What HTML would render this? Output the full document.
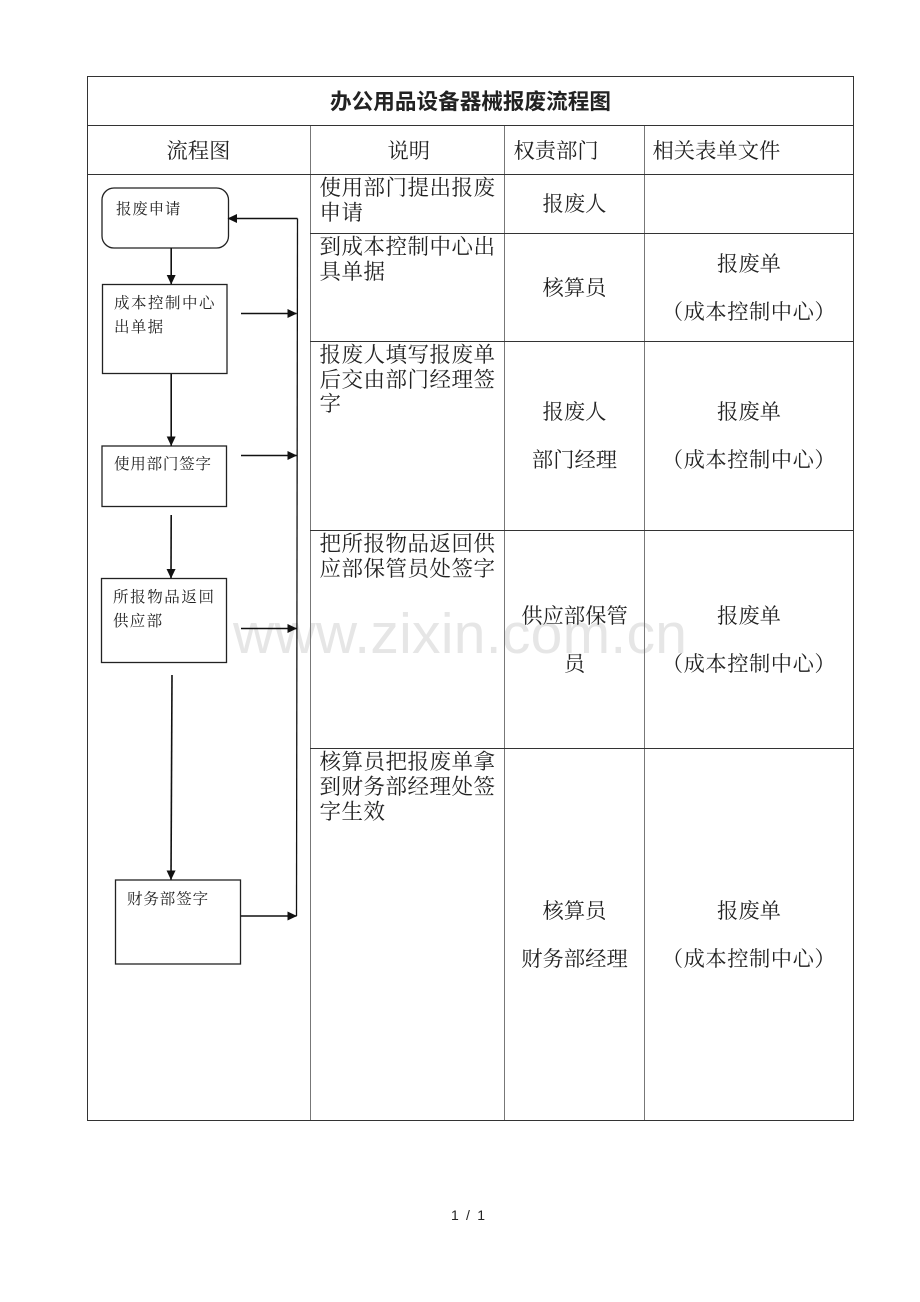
<!DOCTYPE html>
<html><head><meta charset="utf-8"><style>
html,body{margin:0;padding:0;background:#fff;width:920px;height:1302px;overflow:hidden}
svg{display:block}
text{font-family:"Liberation Serif","Noto Serif CJK SC",serif;fill:#222}
.d{font-size:21.5px;letter-spacing:.5px}
.h{font-size:21.3px}
.c{font-size:21.3px;text-anchor:middle}
.p{font-size:21.3px;text-anchor:middle;letter-spacing:.5px}
.f{font-size:15.5px;letter-spacing:1.3px}
</style></head><body>
<svg width="920" height="1302" viewBox="0 0 920 1302" xmlns="http://www.w3.org/2000/svg">
<defs><marker id="a" markerUnits="userSpaceOnUse" markerWidth="10" markerHeight="10" refX="9" refY="4.5" orient="auto"><path d="M0 0L9.5 4.5L0 9z" fill="#111"/></marker></defs>
<text x="233" y="653" font-size="57" textLength="454" style='font-family:"Liberation Sans",sans-serif;fill:#e6e6e6'>www.zixin.com.cn</text>
<g stroke="#777" stroke-width="1" fill="none" shape-rendering="crispEdges">
<path d="M310.500 126V1120M504.500 126V1120M644.500 126V1120"/>
</g>
<g stroke="#333" stroke-width="1" fill="none" shape-rendering="crispEdges">
<rect x="87.500" y="76.500" width="766" height="1044"/>
<path d="M88 125.500H853M88 174.500H853M310 233.500H853M310 341.500H853M310 530.500H853M310 748.500H853"/>
</g>
<text x="330" y="109" font-size="21.600" font-weight="700" textLength="281" style='font-family:"Liberation Sans","Noto Sans CJK SC",sans-serif'>办公用品设备器械报废流程图</text>
<text class="h" x="166.500" y="158">流程图</text>
<text class="h" x="387.500" y="158">说明</text>
<text class="h" x="513.500" y="158">权责部门</text>
<text class="h" x="652.500" y="158">相关表单文件</text>
<text class="d" x="319.500" y="195">使用部门提出报废</text>
<text class="d" x="319.500" y="220">申请</text>
<text class="d" x="319.500" y="254">到成本控制中心出</text>
<text class="d" x="319.500" y="279">具单据</text>
<text class="d" x="319.500" y="362">报废人填写报废单</text>
<text class="d" x="319.500" y="387">后交由部门经理签</text>
<text class="d" x="319.500" y="411">字</text>
<text class="d" x="319.500" y="551">把所报物品返回供</text>
<text class="d" x="319.500" y="576">应部保管员处签字</text>
<text class="d" x="319.500" y="769">核算员把报废单拿</text>
<text class="d" x="319.500" y="794">到财务部经理处签</text>
<text class="d" x="319.500" y="819">字生效</text>
<text class="c" x="574.500" y="211">报废人</text>
<text class="c" x="574.500" y="295">核算员</text>
<text class="c" x="574.500" y="419">报废人</text>
<text class="c" x="574.500" y="467">部门经理</text>
<text class="c" x="574.500" y="623">供应部保管</text>
<text class="c" x="574.500" y="671">员</text>
<text class="c" x="574.500" y="918">核算员</text>
<text class="c" x="574.500" y="966">财务部经理</text>
<text class="c" x="749" y="271">报废单</text>
<text class="p" x="749" y="319">（成本控制中心）</text>
<text class="c" x="749" y="419">报废单</text>
<text class="p" x="749" y="467">（成本控制中心）</text>
<text class="c" x="749" y="623">报废单</text>
<text class="p" x="749" y="671">（成本控制中心）</text>
<text class="c" x="749" y="918">报废单</text>
<text class="p" x="749" y="966">（成本控制中心）</text>
<g stroke="#222" stroke-width="1.300" fill="#fff">
<rect x="102" y="188" width="126.500" height="60" rx="12"/>
<rect x="102.500" y="284.500" width="124.500" height="89"/>
<rect x="102" y="446" width="124.500" height="60.500"/>
<rect x="101.500" y="578.500" width="125" height="84"/>
<rect x="115.500" y="880" width="125" height="84"/>
</g>
<text class="f" x="116" y="214" style="letter-spacing:.8px">报废申请</text>
<text class="f" x="114" y="308" style="letter-spacing:1.5px">成本控制中心</text>
<text class="f" x="114" y="332">出单据</text>
<text class="f" x="114" y="469" style="letter-spacing:.8px">使用部门签字</text>
<text class="f" x="113" y="602" style="letter-spacing:1.6px">所报物品返回</text>
<text class="f" x="113" y="626">供应部</text>
<text class="f" x="127" y="904" style="letter-spacing:.9px">财务部签字</text>
<g stroke="#111" stroke-width="1.600" fill="none">
<path d="M171.200 248V284" marker-end="url(#a)"/>
<path d="M171.200 374V445.500" marker-end="url(#a)"/>
<path d="M171.200 515L171 578" marker-end="url(#a)"/>
<path d="M172 675L171 879.500" marker-end="url(#a)"/>
<path d="M297.500 218.500L296.500 916" stroke-width="1.300"/>
<path d="M297.500 218.500H228" marker-end="url(#a)"/>
<path d="M241 313.500H296.500" marker-end="url(#a)"/>
<path d="M241 455.500H296.500" marker-end="url(#a)"/>
<path d="M241 628.500H296.500" marker-end="url(#a)"/>
<path d="M241 916H296.500" marker-end="url(#a)"/>
</g>
<text x="451" y="1220" font-size="14" textLength="34" style='font-family:"Liberation Sans",sans-serif'>1 / 1</text>
</svg>
</body></html>
